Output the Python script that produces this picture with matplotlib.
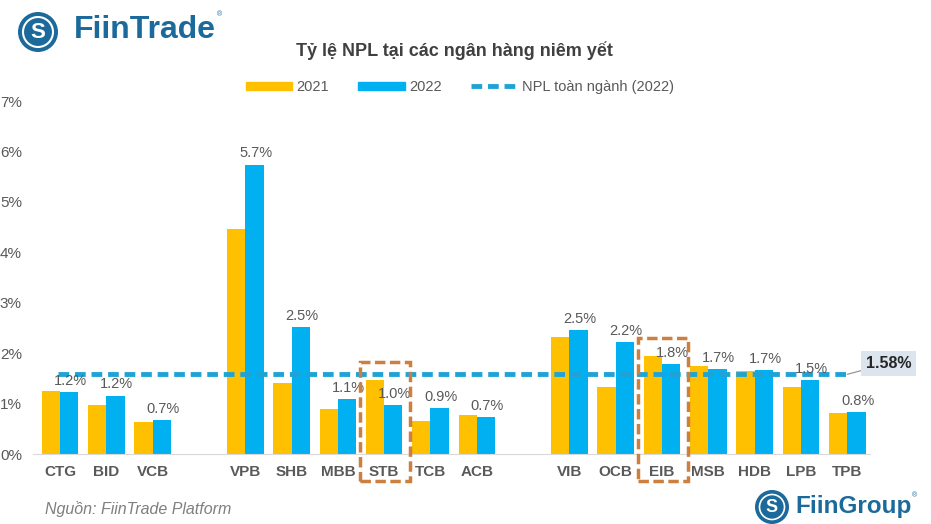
import matplotlib.pyplot as plt
from matplotlib.patches import Rectangle, Ellipse, Patch
from matplotlib.lines import Line2D

plt.rcParams["font.family"] = ["Liberation Sans", "DejaVu Sans"]

## data (NPL ratio, %)
banks = ["CTG", "BID", "VCB", "VPB", "SHB", "MBB", "STB", "TCB", "ACB",
         "VIB", "OCB", "EIB", "MSB", "HDB", "LPB", "TPB"]
slots = [0, 1, 2, 4, 5, 6, 7, 8, 9, 11, 12, 13, 14, 15, 16, 17]
npl2021 = [1.25, 0.97, 0.63, 4.46, 1.41, 0.89, 1.47, 0.65, 0.77,
           2.32, 1.32, 1.95, 1.74, 1.65, 1.32, 0.81]
npl2022 = [1.23, 1.16, 0.67, 5.74, 2.52, 1.09, 0.97, 0.91, 0.73,
           2.46, 2.22, 1.79, 1.69, 1.67, 1.46, 0.83]
nplSector = 1.58
highlight = ["STB", "EIB"]
yticks = [0, 1, 2, 3, 4, 5, 6, 7]

c2021 = "#FFC000"
c2022 = "#00B0F0"
cLine = "#1FA3D6"
cText = "#595959"
cBox = "#CC7F3F"
cLogo = "#1C6A9B"

W, H = 931, 524
fig = plt.figure(figsize=(W / 100, H / 100), dpi=100)
ax = fig.add_axes([33 / W, 70 / H, (870 - 33) / W, (454 - 101) / H])

bw = 0.395
ax.bar([s - bw / 2 for s in slots], npl2021, width=bw, color=c2021, label="2021", zorder=2)
bars = ax.bar([s + bw / 2 for s in slots], npl2022, width=bw, color=c2022, label="2022", zorder=2)

for b, v in zip(bars, npl2022):
    ax.annotate("%.1f%%" % v, (b.get_x() + b.get_width() / 2, v), xytext=(1, 3),
                textcoords="offset points", ha="center", va="bottom", fontsize=10.5, color=cText, zorder=4)

## sector average line
ax.plot([slots[0] - 0.05, slots[-1]], [nplSector, nplSector], color=cLine, lw=3.5,
        dashes=(2.2, 1.2), zorder=3)
ax.annotate("%.2f%%" % nplSector, xy=(slots[-1], nplSector), xytext=(17.4, nplSector + 0.22),
            ha="left", va="center", fontsize=11.5, fontweight="bold", color="#262626",
            bbox=dict(boxstyle="square,pad=0.3", fc="#DCE4EE", ec="none"),
            arrowprops=dict(arrowstyle="-", color="#8C8C8C", lw=0.8, shrinkA=0, shrinkB=0),
            annotation_clip=False, zorder=5)

## dashed boxes around highlighted banks
for name in highlight:
    i = banks.index(name)
    top = max(npl2021[i], npl2022[i]) + 0.35
    r = Rectangle((slots[i] - 0.52, -0.54), 1.07, top + 0.54, fill=False, ec=cBox,
                  lw=2.5, ls=(0, (3, 1.3)), clip_on=False, zorder=6)
    ax.add_patch(r)

ax.set_xlim(-0.583, 17.49)
ax.set_ylim(0, 7)
ax.set_yticks(yticks)
ax.set_yticklabels(["%d%%" % t for t in yticks], fontsize=11, color=cText)
ax.set_xticks(slots)
ax.set_xticklabels(banks, fontsize=11, fontweight="bold", color=cText)
ax.tick_params(axis="both", length=0)
ax.tick_params(axis="y", pad=8)
ax.tick_params(axis="x", pad=8)
for sp in ["top", "right", "left"]:
    ax.spines[sp].set_visible(False)
ax.spines["bottom"].set_color("#D9D9D9")

## title + legend
fig.text(454 / W, 1 - 51 / H, "Tỷ lệ NPL tại các ngân hàng niêm yết", ha="center", va="center",
         fontsize=13, fontweight="bold", color="#404040")
handles = [Patch(color=c2021, label="2021"), Patch(color=c2022, label="2022"),
           Line2D([], [], color=cLine, lw=3.5, dashes=(2.2, 1.2), label="NPL toàn ngành (2022)")]
fig.legend(handles=handles, loc="center", bbox_to_anchor=(460 / W, 1 - 87 / H), ncol=3, frameon=False,
           fontsize=10.5, labelcolor=cText, handlelength=3.2, handleheight=0.5, handletextpad=0.3,
           columnspacing=2.0)

## logos and source
fig.patches.append(Ellipse((38 / W, 1 - 32 / H), 40 / W, 40 / H, transform=fig.transFigure,
                           fc=cLogo, ec="none"))
fig.patches.append(Ellipse((38 / W, 1 - 32 / H), 30 / W, 30 / H, transform=fig.transFigure,
                           fc="none", ec="white", lw=1.5))
fig.text(38 / W, 1 - 32 / H, "S", ha="center", va="center", fontsize=16, fontweight="bold", color="white")
fig.text(74 / W, 1 - 30 / H, "FiinTrade", ha="left", va="center", fontsize=23, fontweight="bold", color=cLogo)
fig.text(217 / W, 1 - 15 / H, "®", ha="left", va="center", fontsize=5, color=cLogo)

fig.patches.append(Ellipse((772 / W, 1 - 507 / H), 34 / W, 34 / H, transform=fig.transFigure,
                           fc=cLogo, ec="none"))
fig.patches.append(Ellipse((772 / W, 1 - 507 / H), 25 / W, 25 / H, transform=fig.transFigure,
                           fc="none", ec="white", lw=1.2))
fig.text(772 / W, 1 - 507 / H, "S", ha="center", va="center", fontsize=13, fontweight="bold", color="white")
fig.text(795 / W, 1 - 507 / H, "FiinGroup", ha="left", va="center", fontsize=17.5, fontweight="bold", color=cLogo)
fig.text(912 / W, 1 - 496 / H, "®", ha="left", va="center", fontsize=5, color=cLogo)

fig.text(45 / W, 1 - 509 / H, "Nguồn: FiinTrade Platform", ha="left", va="center", fontsize=11.5,
         style="italic", color="#7F7F7F")

fig.savefig("out.png", dpi=100, facecolor="white")
